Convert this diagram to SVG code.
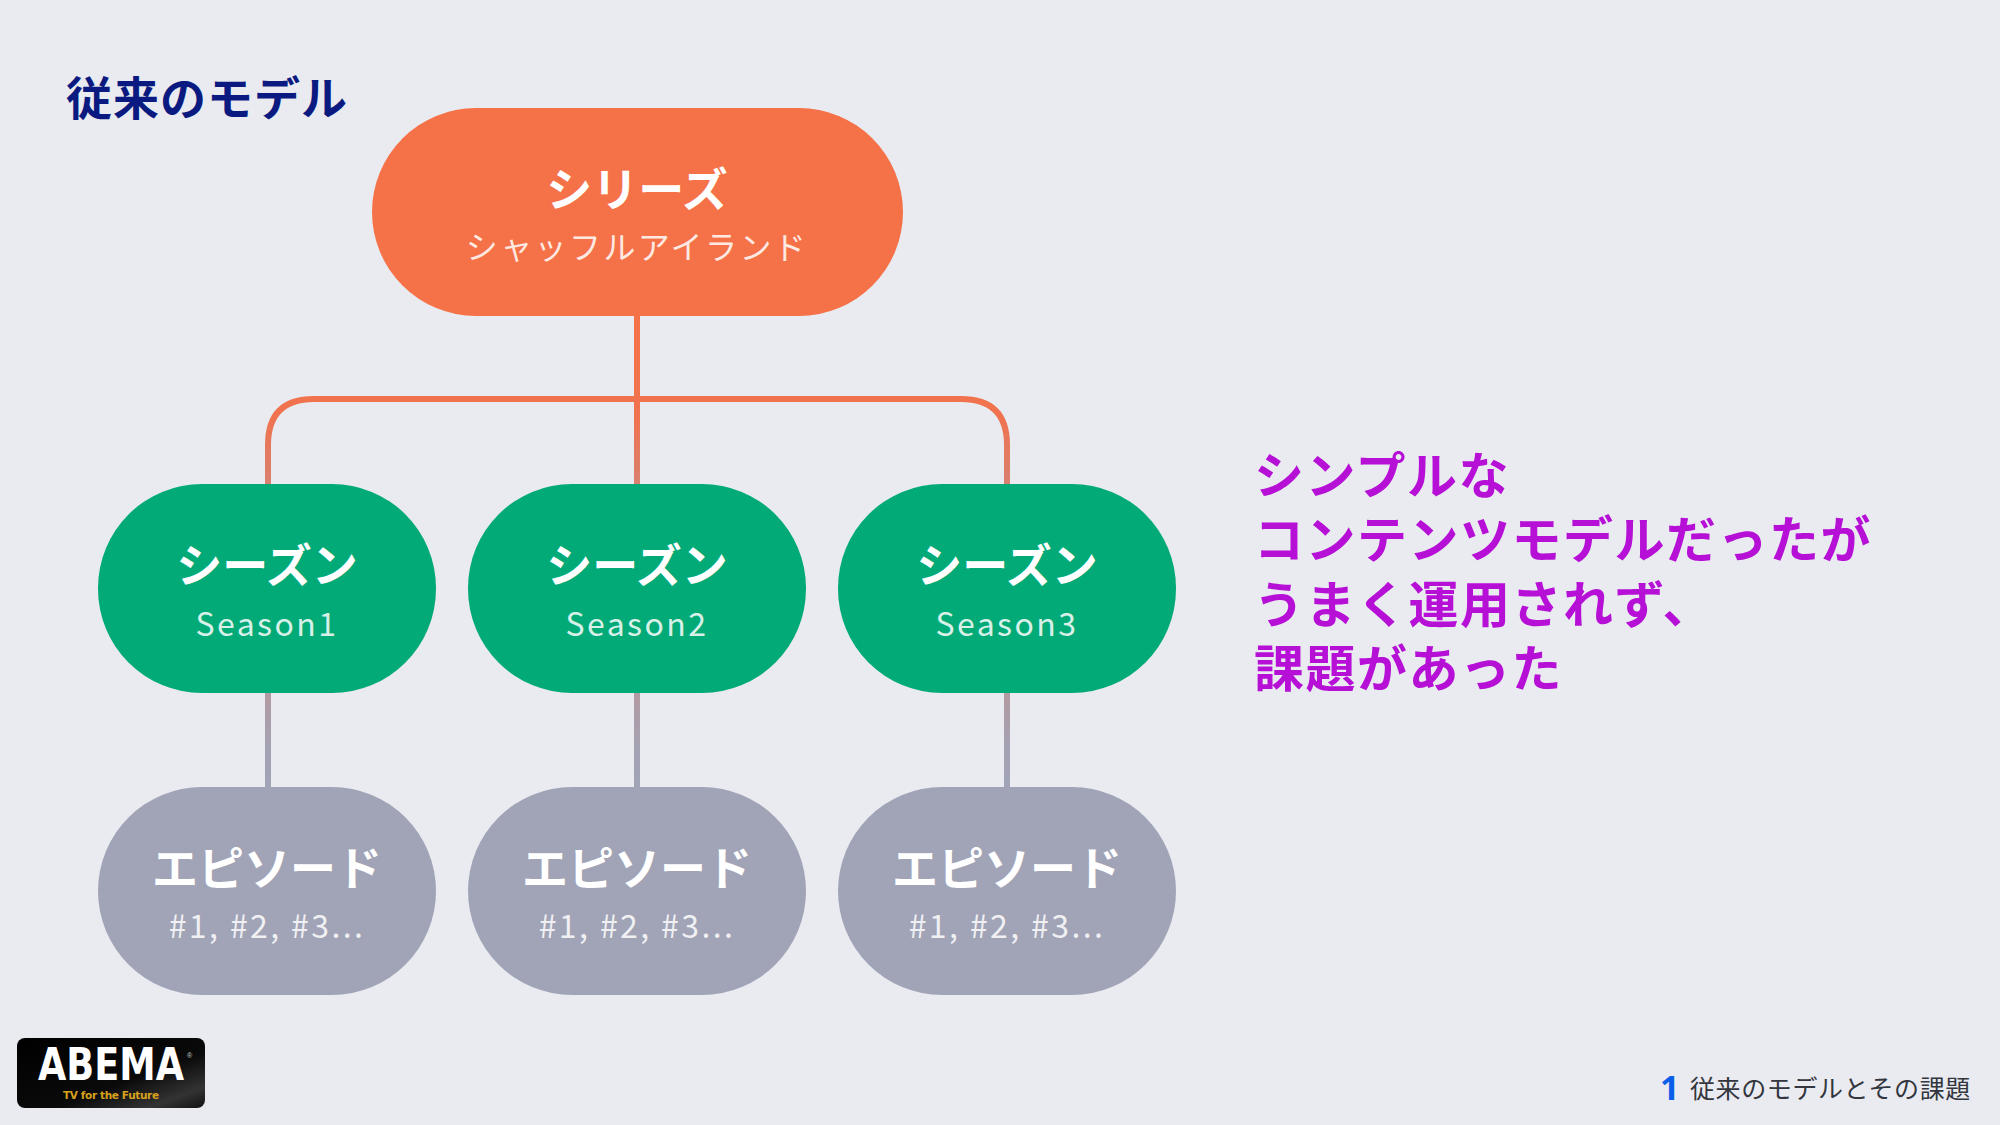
<svg xmlns="http://www.w3.org/2000/svg" width="2000" height="1125" viewBox="0 0 2000 1125">
<defs>
<style>
text{font-family:"Noto Sans CJK JP","Noto Sans",sans-serif}
.t{font-size:46px;font-weight:700;fill:#fff;text-anchor:middle}
.s{font-size:32px;font-weight:400;fill:#fff;fill-opacity:.85;text-anchor:middle;letter-spacing:2.4px}
.c{fill:none;stroke-width:6}
.m{font-size:50px;font-weight:700;fill:#b60fd6;letter-spacing:1.5px}
</style>
<linearGradient id="g1" gradientUnits="userSpaceOnUse" x1="0" y1="316" x2="0" y2="484"><stop offset="0" stop-color="#f57248"/><stop offset=".6" stop-color="#f0734f"/><stop offset="1" stop-color="#d8806f"/></linearGradient>
<linearGradient id="g2" gradientUnits="userSpaceOnUse" x1="0" y1="693" x2="0" y2="787"><stop offset="0" stop-color="#b39aa0"/><stop offset=".6" stop-color="#a3a2b4"/><stop offset="1" stop-color="#a1a4b7"/></linearGradient>
<linearGradient id="lg" x1="0" y1="0" x2="1" y2="1"><stop offset="0" stop-color="#000"/><stop offset=".6" stop-color="#0a0a0a"/><stop offset=".85" stop-color="#333"/><stop offset="1" stop-color="#111"/></linearGradient>
</defs>
<rect width="2000" height="1125" fill="#e9ebf1"/>
<text id="heading" x="66" y="115" font-size="46" font-weight="700" fill="#0b1a80" letter-spacing="1">従来のモデル</text>
<g id="connectors">
<path class="c" stroke="url(#g1)" d="M637 316V484"/>
<path class="c" stroke="url(#g1)" d="M268 484V445Q268 399 314 399H961Q1007 399 1007 445V484"/>
<path class="c" stroke="url(#g2)" d="M268 693V787"/>
<path class="c" stroke="url(#g2)" d="M637 693V787"/>
<path class="c" stroke="url(#g2)" d="M1007 693V787"/>
</g>
<g id="series"><rect x="372" y="108" width="531" height="208" rx="104" fill="#f57248"/><text class="t" x="637" y="206">シリーズ</text><text class="s" x="637" y="259">シャッフルアイランド</text></g>
<g id="season1"><rect x="98" y="484" width="338" height="209" rx="104" fill="#02aa77"/><text class="t" x="267" y="582">シーズン</text><text class="s" x="267" y="636">Season1</text></g>
<g id="season2"><rect x="468" y="484" width="338" height="209" rx="104" fill="#02aa77"/><text class="t" x="637" y="582">シーズン</text><text class="s" x="637" y="636">Season2</text></g>
<g id="season3"><rect x="838" y="484" width="338" height="209" rx="104" fill="#02aa77"/><text class="t" x="1007" y="582">シーズン</text><text class="s" x="1007" y="636">Season3</text></g>
<g id="episode1"><rect x="98" y="787" width="338" height="208" rx="104" fill="#a1a4b7"/><text class="t" x="267" y="885">エピソード</text><text class="s" x="267" y="938">#1, #2, #3...</text></g>
<g id="episode2"><rect x="468" y="787" width="338" height="208" rx="104" fill="#a1a4b7"/><text class="t" x="637" y="885">エピソード</text><text class="s" x="637" y="938">#1, #2, #3...</text></g>
<g id="episode3"><rect x="838" y="787" width="338" height="208" rx="104" fill="#a1a4b7"/><text class="t" x="1007" y="885">エピソード</text><text class="s" x="1007" y="938">#1, #2, #3...</text></g>
<g id="message">
<text class="m" x="1254" y="494">シンプルな</text>
<text class="m" x="1254" y="558">コンテンツモデルだったが</text>
<text class="m" x="1254" y="623">うまく運用されず、</text>
<text class="m" x="1254" y="687">課題があった</text>
</g>
<g id="logo">
<rect x="17" y="1038" width="188" height="70" rx="8" fill="url(#lg)"/>
<text x="38" y="1080" font-size="44" font-weight="700" fill="#fff" style="font-family:'DejaVu Sans',sans-serif" textLength="146" lengthAdjust="spacingAndGlyphs">ABEMA</text>
<text x="187" y="1058" font-size="7" fill="#ccc" style="font-family:'Liberation Sans',sans-serif">®</text>
<text x="63" y="1099" font-size="10.5" font-weight="700" fill="#d8a21c" style="font-family:'DejaVu Sans',sans-serif" textLength="96">TV for the Future</text>
</g>
<g id="footer">
<text x="1660" y="1100" font-size="34" font-weight="700" fill="#0b5ee8" style="font-family:'Noto Sans',sans-serif">1</text>
<text x="1690" y="1098" font-size="25" font-weight="400" fill="#33363e" letter-spacing=".6">従来のモデルとその課題</text>
</g>
</svg>
